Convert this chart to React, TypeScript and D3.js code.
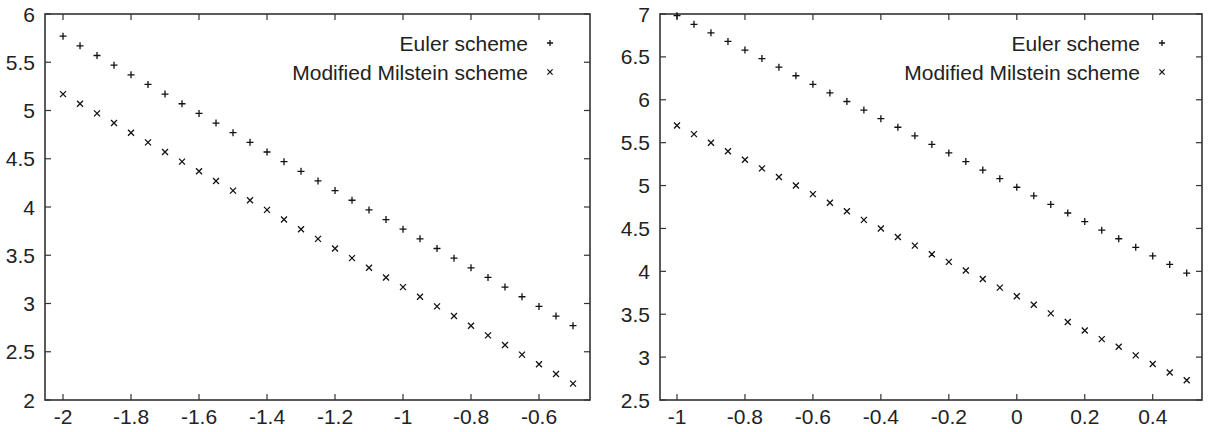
import React, { useRef, useEffect } from "react";
import * as d3 from "d3";

const leftX = [-2, -1.95, -1.9, -1.85, -1.8, -1.75, -1.7, -1.65, -1.6, -1.55, -1.5, -1.45, -1.4, -1.35, -1.3, -1.25, -1.2, -1.15, -1.1, -1.05, -1, -0.95, -0.9, -0.85, -0.8, -0.75, -0.7, -0.65, -0.6, -0.55, -0.5];
const leftEuler = [5.77, 5.67, 5.57, 5.47, 5.37, 5.27, 5.17, 5.07, 4.97, 4.87, 4.77, 4.67, 4.57, 4.47, 4.37, 4.27, 4.17, 4.07, 3.97, 3.87, 3.77, 3.67, 3.57, 3.47, 3.37, 3.27, 3.17, 3.07, 2.97, 2.87, 2.77];
const leftMilstein = [5.17, 5.07, 4.97, 4.87, 4.77, 4.67, 4.57, 4.47, 4.37, 4.27, 4.17, 4.07, 3.97, 3.87, 3.77, 3.67, 3.57, 3.47, 3.37, 3.27, 3.17, 3.07, 2.97, 2.87, 2.77, 2.67, 2.57, 2.47, 2.37, 2.27, 2.17];

const rightX = [-1, -0.95, -0.9, -0.85, -0.8, -0.75, -0.7, -0.65, -0.6, -0.55, -0.5, -0.45, -0.4, -0.35, -0.3, -0.25, -0.2, -0.15, -0.1, -0.05, 0, 0.05, 0.1, 0.15, 0.2, 0.25, 0.3, 0.35, 0.4, 0.45, 0.5];
const rightEuler = [6.98, 6.88, 6.78, 6.68, 6.58, 6.48, 6.38, 6.28, 6.18, 6.08, 5.98, 5.88, 5.78, 5.68, 5.58, 5.48, 5.38, 5.28, 5.18, 5.08, 4.98, 4.88, 4.78, 4.68, 4.58, 4.48, 4.38, 4.28, 4.18, 4.08, 3.98];
const rightMilstein = [5.7, 5.6, 5.5, 5.4, 5.3, 5.2, 5.1, 5.0, 4.9, 4.8, 4.7, 4.6, 4.5, 4.4, 4.3, 4.2, 4.11, 4.01, 3.91, 3.81, 3.71, 3.61, 3.51, 3.41, 3.31, 3.21, 3.12, 3.02, 2.92, 2.82, 2.73];

const leftXTicks = [-2, -1.8, -1.6, -1.4, -1.2, -1, -0.8, -0.6];
const leftYTicks = [2, 2.5, 3, 3.5, 4, 4.5, 5, 5.5, 6];
const rightXTicks = [-1, -0.8, -0.6, -0.4, -0.2, 0, 0.2, 0.4];
const rightYTicks = [2.5, 3, 3.5, 4, 4.5, 5, 5.5, 6, 6.5, 7];

const seriesNames = ["Euler scheme", "Modified Milstein scheme"];

const FONT = "'Liberation Sans', Arial, Helvetica, sans-serif";
const FRAME = "#333";

const App = () => {
  const svgRef = useRef(null);

  useEffect(() => {
    document.body.style.margin = "0";
    const svg = d3.select(svgRef.current);
    svg.selectAll("*").remove();

    const panels = [
      { x0: 45, x1: 590, xDom: [-2.053, -0.45], yDom: [2, 6], xs: leftX, a: leftEuler, b: leftMilstein, xt: leftXTicks, yt: leftYTicks },
      { x0: 660, x1: 1202, xDom: [-1.05, 0.545], yDom: [2.5, 7], xs: rightX, a: rightEuler, b: rightMilstein, xt: rightXTicks, yt: rightYTicks },
    ];
    const top = 14, bottom = 400, tl = 6;

    panels.forEach((p) => {
      const x = d3.scaleLinear().domain(p.xDom).range([p.x0, p.x1]);
      const y = d3.scaleLinear().domain(p.yDom).range([bottom, top]);
      const g = svg.append("g");
      const fmt = (d) => String(d).replace(/^0\./, "0.");

      // ticks (mirrored, pointing inside)
      p.xt.forEach((t) => {
        g.append("line").attr("x1", x(t)).attr("x2", x(t)).attr("y1", bottom).attr("y2", bottom - tl).attr("stroke", FRAME).attr("stroke-width", 1.2);
        g.append("line").attr("x1", x(t)).attr("x2", x(t)).attr("y1", top).attr("y2", top + tl).attr("stroke", FRAME).attr("stroke-width", 1.2);
        g.append("text").attr("x", x(t)).attr("y", 424).attr("text-anchor", "middle")
          .style("font-family", FONT).style("font-size", "21px").attr("fill", "#222").text(fmt(t));
      });
      p.yt.forEach((t) => {
        g.append("line").attr("x1", p.x0).attr("x2", p.x0 + tl).attr("y1", y(t)).attr("y2", y(t)).attr("stroke", FRAME).attr("stroke-width", 1.2);
        g.append("line").attr("x1", p.x1).attr("x2", p.x1 - tl).attr("y1", y(t)).attr("y2", y(t)).attr("stroke", FRAME).attr("stroke-width", 1.2);
        g.append("text").attr("x", p.x0 - 10).attr("y", y(t)).attr("dy", "0.36em").attr("text-anchor", "end")
          .style("font-family", FONT).style("font-size", "21px").attr("fill", "#222").text(fmt(t));
      });

      // frame
      g.append("rect").attr("x", p.x0).attr("y", top).attr("width", p.x1 - p.x0).attr("height", bottom - top)
        .attr("fill", "none").attr("stroke", FRAME).attr("stroke-width", 1.6);

      const plus = (sel, cx, cy, s) => {
        sel.append("path").attr("d", `M${cx - s},${cy}H${cx + s}M${cx},${cy - s}V${cy + s}`)
          .attr("stroke", "#111").attr("stroke-width", 1.3).attr("fill", "none");
      };
      const cross = (sel, cx, cy, s) => {
        sel.append("path").attr("d", `M${cx - s},${cy - s}L${cx + s},${cy + s}M${cx - s},${cy + s}L${cx + s},${cy - s}`)
          .attr("stroke", "#111").attr("stroke-width", 1.3).attr("fill", "none");
      };

      p.xs.forEach((v, i) => {
        plus(g, x(v), y(p.a[i]), 3.5);
        cross(g, x(v), y(p.b[i]), 3);
      });

      // legend
      const lx = p.x1 - 62;
      const mx = p.x1 - 40;
      seriesNames.forEach((name, i) => {
        const ly = 43 + i * 29;
        g.append("text").attr("x", lx).attr("y", ly).attr("dy", "0.36em").attr("text-anchor", "end")
          .style("font-family", FONT).style("font-size", "21px").attr("fill", "#222").text(name);
        if (i === 0) plus(g, mx, ly, 3);
        else cross(g, mx, ly, 2.6);
      });
    });
  }, []);

  return (
    <svg ref={svgRef} width={1211} height={432} style={{ display: "block", background: "#fff" }}></svg>
  );
};

export default App;
